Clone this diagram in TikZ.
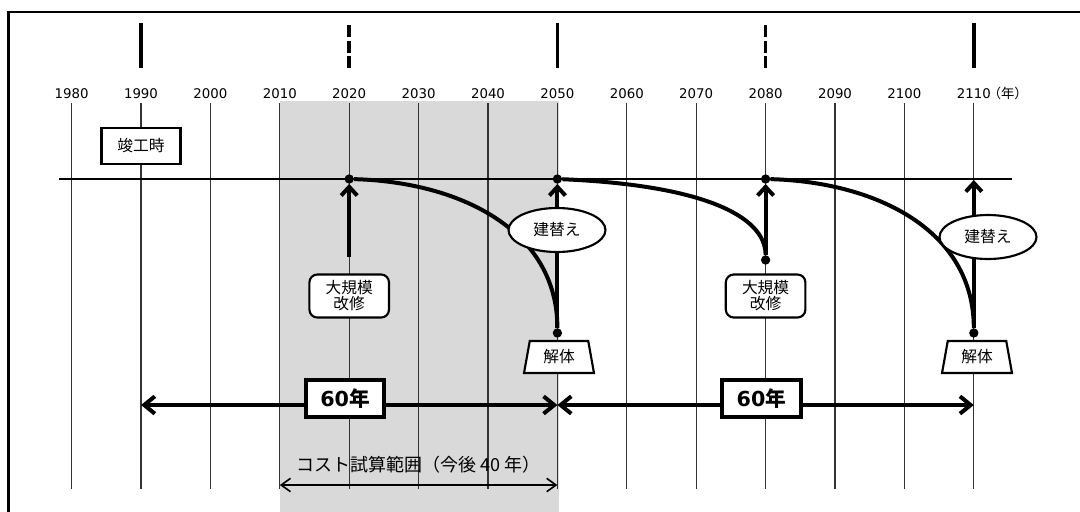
\documentclass[tikz,border=0pt]{standalone}
\usepackage{fontspec}
\setmainfont{DejaVu Sans}
\newfontfamily\jp{Noto Sans CJK JP}
\usetikzlibrary{arrows.meta,shapes.geometric,positioning}

\begin{document}
\begin{tikzpicture}[x=0.75pt, y=-0.75pt,
  yearline/.style={line width=0.8pt, black!80},
  yeartick/.style={line width=2.6pt},
  dotnode/.style={circle, fill, inner sep=0pt, minimum size=7pt},
  agecurve/.style={line width=3pt},
  rise/.style={line width=3pt, -{Straight Barb[length=6.5pt,width=12pt]}},
  lifespan/.style={line width=3pt, {Straight Barb[length=8pt,width=13pt]}-{Straight Barb[length=8pt,width=13pt]}},
  plate/.style={draw, fill=white, line width=1.6pt, inner sep=0pt, align=center,
                font=\jp\fontsize{11.8}{12}\selectfont},
  event/.style={plate, rounded corners=6pt, minimum width=59.7pt, minimum height=32.3pt},
  rebuild/.style={plate, ellipse, minimum width=72.75pt, minimum height=33pt},
  demolish/.style={plate, trapezium, trapezium left angle=78, trapezium right angle=78,
                   trapezium stretches=true, minimum width=52.5pt, minimum height=24pt},
  life/.style={draw, fill=white, line width=3pt, minimum width=59pt, minimum height=28pt,
               inner sep=0pt, font=\fontsize{15.5}{16}\selectfont\bfseries}]
  \useasboundingbox (0,0) rectangle (1080,511);
  \clip (0,0) rectangle (1080,511);
  % cost range and frame
  \fill[black!15] (279.8,101) rectangle (559,520);
  \draw[line width=2pt] (8.5,12) rectangle (1100,530);
  % year grid
  \foreach \yr in {1980,1990,...,2110}{
    \pgfmathsetmacro\xx{71.6+(\yr-1980)*6.94}
    \node[font=\fontsize{10}{12}\selectfont] (y\yr) at (\xx,93.5) {\yr};
    \draw[yearline] (\xx,103) -- (\xx,489);
  }
  \node[inner sep=0pt, font=\jp\fontsize{10}{12}\selectfont, right=-6pt of y2110] (unit) {（年）};
  \foreach \yr in {1990,2050,2110}
    \draw[yeartick] (y\yr |- 0,23.3) -- (y\yr |- 0,68.3);
  \foreach \yr in {2020,2080}
    \draw[yeartick, dash pattern=on 9pt off 2.8pt] (y\yr |- 0,25) -- (y\yr |- 0,68.3);
  \draw[line width=1.4pt] (59,179) -- (1012,179);
  \node[plate, minimum width=59pt, minimum height=26.7pt, line width=1.8pt] (done) at (141,146) {竣工時};
  % life cycle
  \node[dotnode] (d2020) at (349.2,179) {};
  \node[dotnode] (d2050) at (557.4,179) {};
  \node[dotnode] (d2080) at (765.6,179) {};
  \node[dotnode] (e2050) at (557.4,333) {};
  \node[dotnode] (e2080) at (765.6,260) {};
  \node[dotnode] (e2110) at (973.8,333) {};
  \coordinate (s2020) at (349.2,257);
  \coordinate (a2110) at (973.8,180);
  \draw[agecurve] (d2020) .. controls (460,182) and (557.4,230) .. (e2050);
  \draw[agecurve] (d2050) .. controls (700,185) and (765.6,215) .. (e2080);
  \draw[agecurve] (d2080) .. controls (876,182) and (973.8,230) .. (e2110);
  \draw[rise] (s2020) -- (d2020);
  \draw[rise] (e2050) -- (d2050);
  \draw[rise] (e2080) -- (d2080);
  \draw[rise] (e2110) -- (a2110);
  \node[event] (r2020) at (349.2,296) {大規模\\改修};
  \node[event] (r2080) at (765.6,296) {大規模\\改修};
  \node[rebuild] (k2050) at (557,230) {建替え};
  \node[rebuild] (k2110) at (988,237) {建替え};
  \node[demolish] (p2050) at (559,357) {解体};
  \node[demolish] (p2110) at (977,357) {解体};
  % 60 years
  \coordinate (l1990) at (141,405);
  \coordinate (m2050) at (557.4,405);
  \coordinate (r2110) at (973.8,405);
  \draw[lifespan] (l1990) -- (m2050) node[life, pos=0.49, yshift=4.9pt] (n1) {60{\jp 年}};
  \draw[lifespan] (m2050) -- (r2110) node[life, pos=0.49, yshift=4.9pt] (n2) {60{\jp 年}};
  % cost estimate
  \coordinate (c2010) at (279.8,485);
  \coordinate (c2050) at (557.4,485);
  \draw[line width=1.2pt, {Straight Barb[length=7pt,width=10pt]}-{Straight Barb[length=7pt,width=10pt]}] (c2010) -- (c2050)
    node[midway, yshift=15pt, inner sep=0pt, font=\jp\fontsize{13.5}{15}\selectfont] (cost) {コスト試算範囲（今後 40 年）};
\end{tikzpicture}
\end{document}
